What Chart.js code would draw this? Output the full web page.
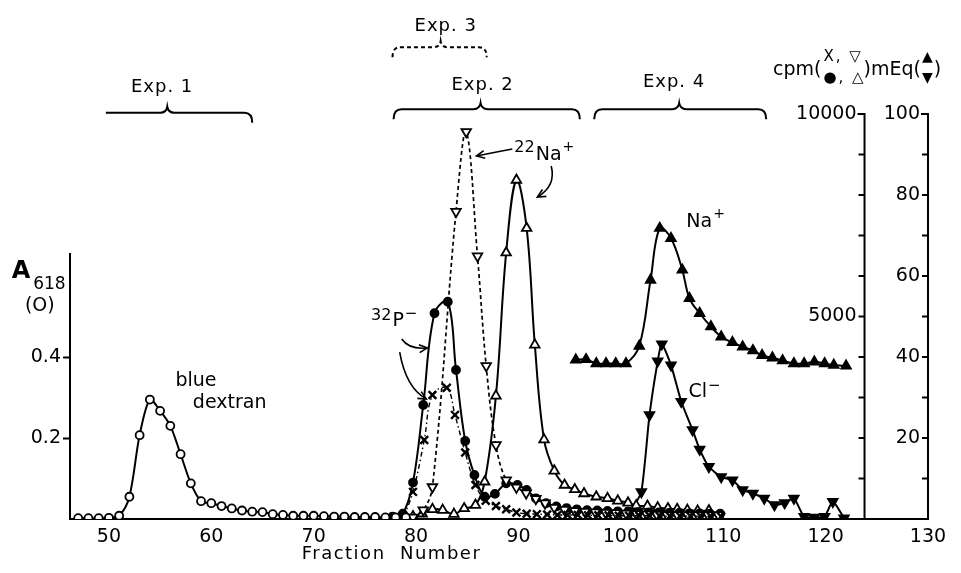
<!DOCTYPE html>
<html>
<head>
<meta charset="utf-8">
<script src="https://cdn.jsdelivr.net/npm/chart.js@4.4.1/dist/chart.umd.min.js"></script>
<style>
  html, body { margin: 0; padding: 0; background: #fff; }
</style>
</head>
<body>
<canvas id="chart" width="961" height="573"></canvas>
<script>
// Tick labels
const xTicks = [50, 60, 70, 80, 90, 100, 110, 120, 130];
const aTicks = [0.2, 0.4];
const cpmLabels = [5000, 10000];
const eqLabels = [20, 40, 60, 80, 100];

// Exp. 1 - blue dextran, A618 (open circles)
const dexFrac = [47, 48, 49, 50, 51, 52, 53, 54, 55, 56, 57, 58, 59, 60, 61, 62, 63, 64, 65, 66, 67, 68, 69, 70, 71, 72, 73, 74, 75, 76, 77, 78, 79];
const dexA = [0.002, 0.002, 0.002, 0.003, 0.008, 0.055, 0.207, 0.295, 0.267, 0.23, 0.16, 0.088, 0.044, 0.039, 0.032, 0.026, 0.021, 0.018, 0.017, 0.012, 0.010, 0.008, 0.008, 0.008, 0.007, 0.006, 0.006, 0.005, 0.005, 0.005, 0.004, 0.004, 0.004];

// Exp. 2 - 32P (filled circles) and 22Na (open up triangles), cpm
const p2Frac = [77.7, 78.7, 79.7, 80.7, 81.8, 83.1, 83.9, 84.8, 85.7, 86.7, 87.7, 88.8, 89.9, 90.8, 91.7, 92.7, 93.7, 94.7, 95.7, 96.7, 97.7, 98.7, 99.7, 100.7, 101.7, 102.7, 103.7, 104.7, 105.7, 106.7, 107.7, 108.7, 109.7];
const p2Cpm = [60, 130, 900, 2815, 5080, 5365, 3680, 1926, 1086, 551, 620, 880, 840, 716, 511, 390, 310, 270, 240, 220, 210, 200, 190, 180, 170, 160, 160, 150, 150, 140, 140, 130, 130];
const na2Frac = [79.7, 80.6, 81.6, 82.6, 83.7, 84.7, 85.8, 86.7, 87.8, 88.8, 89.8, 90.8, 91.6, 92.5, 93.5, 94.5, 95.5, 96.4, 97.6, 98.7, 99.7, 100.7, 101.5, 102.6, 103.6, 104.6, 105.5, 106.5, 107.5, 108.6];
const na2Cpm = [60, 130, 240, 220, 120, 260, 345, 920, 3040, 6575, 8370, 7180, 4300, 1960, 1190, 840, 730, 630, 550, 510, 450, 400, 330, 320, 280, 260, 240, 220, 200, 210];

// Exp. 3 - 32P (crosses) and 22Na (open down triangles), cpm
const p3Frac = [78.8, 79.7, 80.8, 81.6, 83.0, 83.8, 84.8, 85.8, 86.8, 87.8, 88.8, 89.8, 90.8, 91.8, 92.8, 93.8, 94.8, 95.8, 96.8, 97.8, 98.8, 99.8, 100.8, 101.8, 102.8, 103.8, 104.8, 105.8, 106.8, 107.8, 108.8, 109.8];
const p3Cpm = [60, 670, 1950, 3060, 3240, 2570, 1640, 840, 450, 320, 240, 160, 130, 120, 110, 100, 100, 100, 90, 90, 90, 80, 80, 80, 80, 70, 70, 70, 70, 70, 60, 60];
const na3Frac = [79.7, 80.7, 81.6, 83.9, 84.9, 86.0, 86.85, 87.8, 88.8, 89.8, 90.75, 91.7, 92.6, 93.5, 94.5, 95.5, 96.5, 97.5, 98.5, 99.5, 100.5, 101.5, 102.5, 103.5, 104.5, 105.5, 106.5, 107.5, 108.5, 109.5];
const na3Cpm = [40, 220, 790, 7590, 9560, 6490, 3780, 1830, 960, 780, 640, 500, 390, 280, 230, 200, 180, 170, 160, 150, 140, 130, 120, 110, 100, 100, 100, 100, 100, 100];

// Exp. 4 - Na+ (filled up triangles) and Cl- (filled down triangles), mEq
const naFrac = [95.6, 96.6, 97.6, 98.55, 99.5, 100.5, 101.8, 102.9, 103.8, 104.9, 106.0, 106.7, 107.7, 108.8, 109.8, 110.9, 111.9, 112.9, 113.8, 114.8, 115.8, 116.9, 117.9, 118.9, 119.9, 120.8, 122.0];
const naEq = [39.3, 39.4, 38.4, 38.4, 38.4, 38.4, 42.7, 59, 71.8, 69.3, 61.5, 54.5, 50.8, 47.5, 45, 43.6, 42.5, 41.6, 40.4, 39.8, 39.1, 38.4, 38.4, 38.8, 38.4, 38, 37.8];
const clFrac = [101.0, 102.0, 102.8, 103.6, 104.0, 104.9, 105.9, 107.0, 107.7, 108.6, 109.8, 110.9, 111.9, 112.9, 114.0, 115.0, 116.0, 116.9, 117.9, 118.9, 119.9, 120.7, 121.8];
const clEq = [2, 6.7, 25.7, 39, 43.2, 38, 29, 22, 17.2, 12.9, 10.4, 9.6, 7.2, 6.3, 5.1, 3.5, 4.0, 5.1, 0.6, 0.4, 0.6, 4.3, 0.2];

const FONT = "'DejaVu Sans', sans-serif";

function series(label, xs, ys, axis, style) {
  return Object.assign({
    label: label,
    data: xs.map((x, i) => ({ x: x, y: ys[i] })),
    yAxisID: axis,
    borderColor: '#000',
    borderWidth: 2,
    tension: 0.38,
    pointBorderColor: '#000',
    pointBorderWidth: 1.8,
    pointRadius: 4,
    pointBackgroundColor: '#fff'
  }, style);
}

// text helper, returns the width drawn
function txt(ctx, s, x, y, size, align, bold) {
  ctx.font = (bold ? 'bold ' : '') + size + 'px ' + FONT;
  ctx.textAlign = align || 'left';
  ctx.textBaseline = 'middle';
  ctx.fillText(s, x, y);
  return ctx.measureText(s).width;
}

// label with superscript parts: [[text, size, dy], ...]
function rich(ctx, parts, x, y) {
  parts.forEach(p => { x += txt(ctx, p[0], x, y + p[2], p[1]) + 1; });
}

// curly bracket over an experiment range
function bracket(ctx, x1, x2, xc, y, curlLeft) {
  ctx.beginPath();
  if (curlLeft) {
    ctx.moveTo(x1, y + 10);
    ctx.quadraticCurveTo(x1, y, x1 + 8, y);
  } else {
    ctx.moveTo(x1, y);
  }
  ctx.lineTo(xc - 7, y);
  ctx.quadraticCurveTo(xc - 1, y, xc, y - 6);
  ctx.quadraticCurveTo(xc + 1, y, xc + 7, y);
  ctx.lineTo(x2 - 8, y);
  ctx.quadraticCurveTo(x2, y, x2, y + 10);
  ctx.stroke();
}

function arrow(ctx, x0, y0, cx, cy, x1, y1) {
  ctx.beginPath();
  ctx.moveTo(x0, y0);
  ctx.quadraticCurveTo(cx, cy, x1, y1);
  ctx.stroke();
  const a = Math.atan2(y1 - cy, x1 - cx);
  ctx.beginPath();
  ctx.moveTo(x1 - 9 * Math.cos(a - 0.45), y1 - 9 * Math.sin(a - 0.45));
  ctx.lineTo(x1, y1);
  ctx.lineTo(x1 - 9 * Math.cos(a + 0.45), y1 - 9 * Math.sin(a + 0.45));
  ctx.stroke();
}

function rightAxis(ctx, px, scale, step, labels) {
  const y0 = scale.getPixelForValue(scale.min);
  const y1 = scale.getPixelForValue(scale.max);
  ctx.lineWidth = 2;
  ctx.beginPath();
  ctx.moveTo(px, y0);
  ctx.lineTo(px, y1);
  ctx.lineTo(px - 7, y1);
  for (let v = step; v < scale.max; v += step) {
    const y = scale.getPixelForValue(v);
    ctx.moveTo(px, y);
    ctx.lineTo(px - 6, y);
  }
  ctx.stroke();
  labels.forEach(v => txt(ctx, String(v), px - 8, scale.getPixelForValue(v), 19, 'right'));
}

const overlay = {
  id: 'overlay',
  afterDraw(chart) {
    const { ctx, scales } = chart;
    const { x, yA, yCpm, yEq } = scales;
    const X = v => x.getPixelForValue(v);
    const C = v => yCpm.getPixelForValue(v);
    const E = v => yEq.getPixelForValue(v);
    const A = v => yA.getPixelForValue(v);
    ctx.save();
    ctx.strokeStyle = '#000';
    ctx.fillStyle = '#000';

    // left axis line (stops a little above 0.6)
    ctx.lineWidth = 2;
    ctx.beginPath();
    ctx.moveTo(chart.chartArea.left, A(0));
    ctx.lineTo(chart.chartArea.left, A(0.657));
    ctx.stroke();

    // right axes
    rightAxis(ctx, X(123.8), yCpm, 1000, cpmLabels);
    rightAxis(ctx, X(130), yEq, 10, eqLabels);

    // A618 (o) axis title
    txt(ctx, 'A', X(40.5), A(0.61), 24, 'left', true);
    txt(ctx, '618', X(42.6), A(0.578), 17);
    txt(ctx, '(O)', X(41.8), A(0.527), 19);

    // x axis title
    ctx.letterSpacing = '1.5px';
    txt(ctx, 'Fraction  Number', X(77.6), 554, 18, 'center');

    // experiment brackets
    ctx.letterSpacing = '1px';
    ctx.lineWidth = 2;
    txt(ctx, 'Exp. 1', X(55.2), E(106.7), 18, 'center');
    bracket(ctx, X(49.7), X(64.0), X(55.7), E(100.3), false);
    txt(ctx, 'Exp. 2', X(86.5), E(107.2), 18, 'center');
    bracket(ctx, X(77.8), X(96.0), X(86.3), E(101.2), true);
    txt(ctx, 'Exp. 4', X(105.2), E(107.7), 18, 'center');
    bracket(ctx, X(97.4), X(114.2), X(105.7), E(101.2), true);
    txt(ctx, 'Exp. 3', X(82.9), E(121.6), 18, 'center');
    ctx.setLineDash([4, 3]);
    bracket(ctx, X(77.7), X(86.9), X(82.4), E(116.5), true);
    ctx.setLineDash([]);
    ctx.letterSpacing = '0px';

    // header: cpm(X,▽ / ●,△) mEq(▲ / ▼)
    let hx = 773;
    hx += txt(ctx, 'cpm(', hx, 70, 19);
    ctx.letterSpacing = '2px';
    txt(ctx, 'X, \u25BD', hx + 2, 57, 15);
    hx += txt(ctx, '\u25CF, \u25B3', hx + 2, 78, 15);
    ctx.letterSpacing = '0px';
    hx += txt(ctx, ')', hx, 70, 19);
    hx += txt(ctx, 'mEq(', hx, 70, 19);
    txt(ctx, '\u25B2', hx + 1, 57, 14);
    hx += txt(ctx, '\u25BC', hx + 1, 78, 14) + 2;
    txt(ctx, ')', hx, 70, 19);

    // series labels
    txt(ctx, 'blue', X(56.5), A(0.341), 19);
    txt(ctx, 'dextran', X(58.2), A(0.286), 19);

    rich(ctx, [['22', 16, -7], ['Na', 19, 0], ['+', 14, -8]], X(89.6), C(8980));
    ctx.lineWidth = 1.6;
    arrow(ctx, X(89.4), C(9136), X(87.6), C(9050), X(85.9), C(8963));
    arrow(ctx, X(93.2), C(8716), X(93.7), C(8222), X(91.85), C(7950));

    rich(ctx, [['32', 16, -6], ['P', 19, 0], ['\u2212', 15, -7]], X(75.6), C(4880));
    arrow(ctx, X(78.6), C(4444), X(79.3), C(4180), X(81.1), C(4222));
    arrow(ctx, X(78.4), C(4123), X(79.0), C(3250), X(81.0), C(2963));

    rich(ctx, [['Na', 19, 0], ['+', 14, -8]], X(106.4), E(73.3));
    rich(ctx, [['Cl', 19, 0], ['\u2212', 15, -6]], X(106.6), E(31.4));

    ctx.restore();
  }
};

new Chart(document.getElementById('chart'), {
  type: 'line',
  data: {
    datasets: [
      series('blue dextran', dexFrac, dexA, 'yA', { pointRadius: 4, tension: 0.3 }),
      series('32P Exp. 3', p3Frac, p3Cpm, 'yCpm', { pointStyle: 'crossRot', pointRadius: 5.5, pointBorderWidth: 2.4, borderWidth: 1.4, borderDash: [5, 3, 1.5, 3] }),
      series('22Na Exp. 3', na3Frac, na3Cpm, 'yCpm', { pointStyle: 'triangle', pointRotation: 180, pointRadius: 5.5, borderWidth: 1.7, borderDash: [4, 3] }),
      series('32P Exp. 2', p2Frac, p2Cpm, 'yCpm', { pointStyle: 'circle', pointRadius: 4, pointBackgroundColor: '#000' }),
      series('22Na Exp. 2', na2Frac, na2Cpm, 'yCpm', { pointStyle: 'triangle', pointRadius: 5.5 }),
      series('Na+', naFrac, naEq, 'yEq', { pointStyle: 'triangle', pointRadius: 5.5, pointBackgroundColor: '#000' }),
      series('Cl-', clFrac, clEq, 'yEq', { pointStyle: 'triangle', pointRotation: 180, pointRadius: 5.5, pointBackgroundColor: '#000', tension: 0.2 })
    ]
  },
  options: {
    responsive: false,
    animation: false,
    layout: { padding: { top: 114, right: 33, left: 0, bottom: 0 } },
    plugins: { legend: { display: false }, tooltip: { enabled: false } },
    scales: {
      x: {
        type: 'linear',
        min: 46.2,
        max: 130,
        grid: { display: false, drawTicks: false },
        border: { color: '#000', width: 2 },
        ticks: { color: '#000', font: { family: FONT, size: 19 }, padding: 7, maxRotation: 0 },
        afterBuildTicks: s => { s.ticks = xTicks.map(v => ({ value: v })); },
        afterFit: s => { s.height = 54; }
      },
      yA: {
        position: 'left',
        min: 0,
        max: 1,
        border: { display: false },
        grid: { drawOnChartArea: false, tickLength: 7, tickColor: '#000', tickWidth: 2 },
        ticks: { color: '#000', font: { family: FONT, size: 19 }, padding: 2, callback: v => v.toFixed(1) },
        afterBuildTicks: s => { s.ticks = aTicks.map(v => ({ value: v })); },
        afterFit: s => { s.width = 70; }
      },
      yCpm: { display: false, min: 0, max: 10000 },
      yEq: { display: false, min: 0, max: 100 }
    }
  },
  plugins: [overlay]
});
</script>
</body>
</html>
